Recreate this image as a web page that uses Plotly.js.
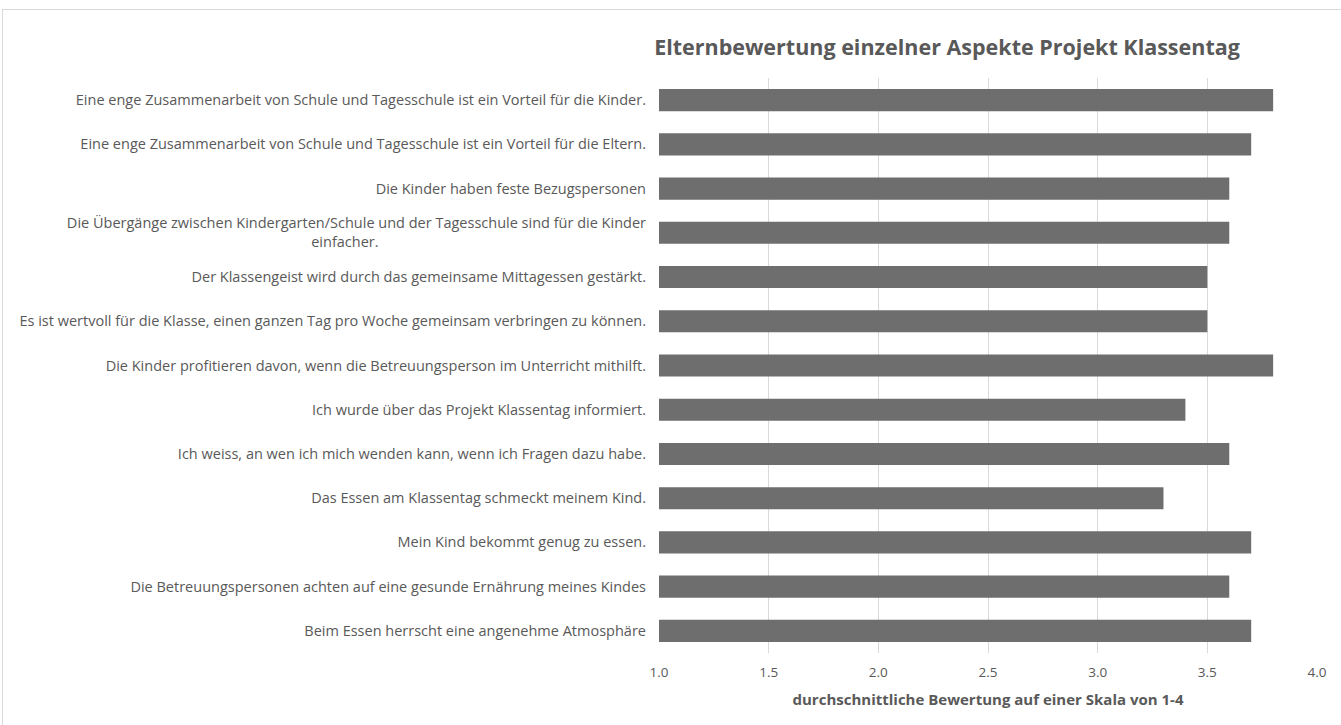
<!DOCTYPE html>
<html>
<head>
<meta charset="utf-8">
<script src="https://cdn.plot.ly/plotly-3.0.1.min.js"></script>
<style>
  html, body { margin: 0; padding: 0; background: #ffffff; }
  #chart { width: 1341px; height: 725px; }
  #frame { position: absolute; left: 2px; top: 9px; width: 1338px; height: 715px; border: 1px solid #d9d9d9; pointer-events: none; }
</style>
</head>
<body>
<div id="chart"></div>
<div id="frame"></div>
<script>
var categories = [
  "Eine enge Zusammenarbeit von Schule und Tagesschule ist ein Vorteil für die Kinder.",
  "Eine enge Zusammenarbeit von Schule und Tagesschule ist ein Vorteil für die Eltern.",
  "Die Kinder haben feste Bezugspersonen",
  "Die Übergänge zwischen Kindergarten/Schule und der Tagesschule sind für die Kinder<br>einfacher." + "\u00a0".repeat(71),
  "Der Klassengeist wird durch das gemeinsame Mittagessen gestärkt.",
  "Es ist wertvoll für die Klasse, einen ganzen Tag pro Woche gemeinsam verbringen zu können.",
  "Die Kinder profitieren davon, wenn die Betreuungsperson im Unterricht mithilft.",
  "Ich wurde über das Projekt Klassentag informiert.",
  "Ich weiss, an wen ich mich wenden kann, wenn ich Fragen dazu habe.",
  "Das Essen am Klassentag schmeckt meinem Kind.",
  "Mein Kind bekommt genug zu essen.",
  "Die Betreuungspersonen achten auf eine gesunde Ernährung meines Kindes",
  "Beim Essen herrscht eine angenehme Atmosphäre"
];
var values = [3.8, 3.7, 3.6, 3.6, 3.5, 3.5, 3.8, 3.4, 3.6, 3.3, 3.7, 3.6, 3.7];
var tickValues = [1.0, 1.5, 2.0, 2.5, 3.0, 3.5, 4.0];
var tickLabels = ["1.0", "1.5", "2.0", "2.5", "3.0", "3.5", "4.0"];
var chartTitle = "Elternbewertung einzelner Aspekte Projekt Klassentag";
var xTitle = "durchschnittliche Bewertung auf einer Skala von 1-4";

var FONT = "'Open Sans', sans-serif";
var trace = {
  type: "bar",
  orientation: "h",
  y: categories,
  x: values.map(function (v) { return v - 1; }),
  base: 1,
  marker: { color: "#6e6e6e", line: { width: 0 } },
  hoverinfo: "skip"
};

var layout = {
  width: 1341,
  height: 725,
  margin: { l: 659, r: 24, t: 78, b: 72, pad: 0 },
  paper_bgcolor: "#ffffff",
  plot_bgcolor: "#ffffff",
  showlegend: false,
  bargap: 0.5,
  font: { family: FONT, color: "#595959", size: 13 },
  title: {
    text: "<b>" + chartTitle + "</b>",
    font: { family: FONT, size: 21.5, color: "#595959" },
    xref: "container", yref: "container",
    x: 947 / 1341, xanchor: "center",
    y: 1 - 47 / 725, yanchor: "middle"
  },
  xaxis: {
    range: [1, 4],
    tickmode: "array",
    tickvals: tickValues,
    ticktext: tickLabels,
    showgrid: true,
    gridcolor: "#d9d9d9",
    gridwidth: 1,
    zeroline: false,
    showline: false,
    ticks: "",
    ticklabelstandoff: 9,
    tickfont: { family: FONT, size: 13.5, color: "#595959" },
    title: {
      text: "<b>" + xTitle + "</b>",
      font: { family: FONT, size: 15, color: "#595959" },
      standoff: 14
    },
    fixedrange: true
  },
  yaxis: {
    type: "category",
    autorange: "reversed",
    showgrid: false,
    zeroline: false,
    showline: false,
    ticks: "",
    ticklabelstandoff: 12,
    tickfont: { family: FONT, size: 14.5, color: "#595959" },
    fixedrange: true
  }
};

Plotly.newPlot("chart", [trace], layout, { displayModeBar: false, staticPlot: true });
</script>
</body>
</html>
